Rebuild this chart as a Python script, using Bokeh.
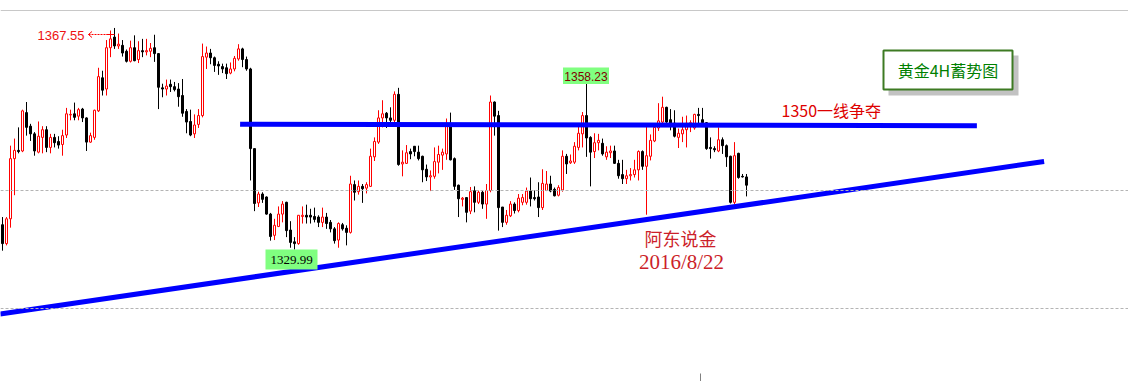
from bokeh.plotting import figure
from bokeh.models import Range1d, Span, ColumnDataSource
from bokeh.core.properties import value
from bokeh.embed import file_html
from bokeh.resources import INLINE

# ---- data: XAUUSD 4H candles ----
OPEN = [
    1334.2, 1331.0, 1335.2, 1345.4, 1346.8, 1346.7, 1353.2, 1350.9, 1349.6, 1346.5,
    1349.0, 1350.3, 1347.3, 1349.0, 1348.3, 1347.8, 1349.4, 1352.8, 1353.0, 1352.6,
    1353.8, 1352.3, 1348.2, 1349.0, 1353.5, 1359.1, 1357.2, 1364.2, 1366.0, 1364.5,
    1364.6, 1363.6, 1361.9, 1364.2, 1362.2, 1363.7, 1363.5, 1363.6, 1364.2, 1363.2,
    1357.4, 1357.2, 1358.0, 1357.6, 1357.2, 1356.1, 1353.4, 1351.7, 1349.6, 1351.2,
    1352.7, 1362.6, 1363.3, 1362.5, 1361.4, 1361.0, 1360.8, 1359.9, 1360.6, 1362.3,
    1364.0, 1362.2, 1360.6, 1347.1, 1337.9, 1339.4, 1338.9, 1336.0, 1332.4, 1333.9,
    1336.0, 1338.0, 1333.3, 1331.3, 1331.0, 1335.6, 1335.8, 1335.8, 1335.6, 1335.5,
    1334.6, 1335.5, 1334.6, 1333.5, 1331.6, 1334.2, 1333.6, 1332.9, 1341.0, 1339.8,
    1340.7, 1340.4, 1340.7, 1345.7, 1348.2, 1352.3, 1353.1, 1352.3, 1351.9, 1356.3,
    1344.5, 1344.6, 1346.6, 1347.5, 1346.5, 1345.8, 1343.6, 1342.3, 1342.4, 1344.8,
    1346.0, 1346.2, 1351.1, 1345.4, 1340.9, 1338.5, 1338.8, 1336.5, 1340.0, 1338.0,
    1339.7, 1337.7, 1340.0, 1355.0, 1352.7, 1337.2, 1334.6, 1335.7, 1337.7, 1336.6,
    1338.0, 1338.0, 1339.9, 1338.8, 1338.9, 1337.1, 1340.0, 1341.1, 1340.2, 1339.2,
    1340.1, 1345.8, 1344.7, 1344.8, 1347.3, 1349.6, 1352.7, 1349.0, 1346.6, 1348.1,
    1348.0, 1345.7, 1346.4, 1346.7, 1344.6, 1342.7, 1342.0, 1342.5, 1342.7, 1343.5,
    1346.6, 1344.1, 1345.8, 1348.4, 1350.6, 1351.6, 1354.1, 1352.0, 1351.4, 1349.0,
    1349.6, 1350.3, 1351.0, 1350.6, 1352.9, 1352.0, 1351.5, 1347.3, 1347.1, 1346.7,
    1348.6, 1347.6, 1345.8, 1338.0, 1346.3, 1342.4, 1342.3]
HIGH = [
    1335.5, 1335.5, 1347.6, 1348.8, 1350.7, 1353.7, 1355.0, 1351.3, 1349.9, 1351.7,
    1350.9, 1350.9, 1349.6, 1349.6, 1349.2, 1350.3, 1354.0, 1353.7, 1354.9, 1354.0,
    1354.0, 1352.4, 1349.8, 1353.7, 1360.8, 1360.3, 1365.5, 1366.6, 1367.55, 1366.6,
    1365.5, 1363.9, 1365.4, 1366.3, 1365.3, 1365.7, 1365.7, 1365.0, 1366.4, 1363.3,
    1358.1, 1358.8, 1358.8, 1358.4, 1358.2, 1358.9, 1353.8, 1353.7, 1352.9, 1353.8,
    1364.9, 1364.4, 1364.0, 1362.7, 1361.9, 1361.5, 1361.5, 1361.7, 1362.8, 1364.8,
    1364.2, 1362.7, 1360.8, 1347.1, 1339.8, 1339.7, 1339.0, 1336.2, 1335.2, 1337.3,
    1338.2, 1338.1, 1334.8, 1332.1, 1335.8, 1337.3, 1337.6, 1336.9, 1337.1, 1335.8,
    1337.1, 1336.2, 1335.0, 1333.8, 1334.6, 1334.5, 1334.1, 1342.5, 1341.7, 1341.7,
    1341.1, 1341.4, 1347.1, 1349.0, 1353.6, 1355.3, 1353.3, 1354.1, 1356.8, 1357.4,
    1346.8, 1347.7, 1347.1, 1347.5, 1347.6, 1345.9, 1344.4, 1343.4, 1347.3, 1347.6,
    1347.1, 1352.2, 1353.2, 1345.6, 1341.0, 1338.9, 1338.8, 1340.6, 1340.7, 1340.0,
    1340.0, 1341.1, 1356.1, 1355.1, 1353.5, 1337.2, 1336.7, 1338.2, 1338.0, 1339.4,
    1339.4, 1340.5, 1342.2, 1340.0, 1341.4, 1343.6, 1343.3, 1342.5, 1340.5, 1340.9,
    1346.8, 1346.2, 1346.1, 1348.2, 1350.9, 1353.3, 1358.23, 1349.2, 1349.7, 1349.6,
    1348.8, 1347.5, 1347.6, 1347.6, 1345.2, 1345.2, 1343.5, 1343.8, 1345.2, 1346.8,
    1346.8, 1351.3, 1349.5, 1351.2, 1354.8, 1355.9, 1354.2, 1353.8, 1353.6, 1350.5,
    1352.5, 1352.7, 1351.9, 1353.0, 1354.0, 1354.0, 1351.6, 1349.0, 1347.5, 1350.7,
    1349.0, 1347.8, 1345.9, 1348.2, 1346.4, 1342.8, 1342.8]
LOW = [
    1329.8, 1330.7, 1333.7, 1339.2, 1346.3, 1346.5, 1349.3, 1348.4, 1345.9, 1346.3,
    1346.3, 1346.5, 1346.3, 1347.3, 1347.1, 1345.9, 1348.9, 1351.9, 1351.9, 1351.9,
    1351.6, 1346.7, 1348.1, 1348.6, 1353.3, 1356.1, 1356.1, 1362.6, 1364.0, 1364.0,
    1362.7, 1361.7, 1361.7, 1361.9, 1361.6, 1362.6, 1362.9, 1362.6, 1361.8, 1353.8,
    1355.8, 1356.1, 1356.7, 1356.8, 1354.2, 1352.5, 1349.7, 1349.2, 1348.9, 1350.6,
    1352.4, 1360.6, 1361.4, 1360.1, 1359.6, 1359.9, 1358.9, 1359.7, 1360.2, 1362.0,
    1360.9, 1360.3, 1341.7, 1336.5, 1337.2, 1337.9, 1335.9, 1331.5, 1331.6, 1333.8,
    1334.6, 1332.1, 1330.3, 1329.99, 1330.8, 1334.4, 1334.4, 1334.4, 1334.6, 1333.8,
    1333.8, 1333.5, 1332.9, 1331.0, 1330.3, 1333.2, 1330.7, 1332.7, 1338.3, 1339.3,
    1337.9, 1339.5, 1340.6, 1345.0, 1347.9, 1350.7, 1350.6, 1351.6, 1351.6, 1344.2,
    1342.4, 1344.5, 1345.3, 1345.8, 1345.1, 1341.4, 1341.6, 1339.9, 1342.0, 1342.9,
    1343.5, 1345.2, 1345.1, 1340.1, 1335.5, 1337.3, 1334.6, 1336.0, 1336.3, 1337.7,
    1336.9, 1335.2, 1339.7, 1349.3, 1333.2, 1333.8, 1334.2, 1335.5, 1336.1, 1336.3,
    1337.5, 1337.6, 1337.3, 1338.3, 1335.5, 1336.7, 1339.9, 1339.7, 1339.0, 1339.0,
    1339.8, 1342.8, 1344.5, 1344.5, 1346.8, 1347.3, 1345.7, 1340.7, 1345.5, 1346.8,
    1345.9, 1345.2, 1345.5, 1344.5, 1342.0, 1341.1, 1341.1, 1341.7, 1342.2, 1341.7,
    1343.5, 1335.9, 1345.1, 1348.2, 1350.1, 1351.4, 1351.3, 1350.2, 1349.0, 1347.2,
    1348.2, 1347.3, 1349.9, 1350.3, 1351.4, 1351.4, 1346.9, 1345.4, 1346.5, 1346.5,
    1346.2, 1344.0, 1337.8, 1337.7, 1342.0, 1342.2, 1339.0]
CLOSE = [
    1331.0, 1335.2, 1345.4, 1346.8, 1346.6, 1353.5, 1350.7, 1349.6, 1346.7, 1349.2,
    1350.3, 1347.3, 1349.0, 1348.1, 1347.7, 1349.3, 1353.0, 1352.9, 1352.4, 1353.7,
    1352.3, 1348.2, 1349.3, 1353.6, 1359.3, 1357.0, 1364.2, 1365.7, 1364.5, 1364.8,
    1363.3, 1361.9, 1364.2, 1362.0, 1363.7, 1363.5, 1363.7, 1364.1, 1363.2, 1357.5,
    1357.2, 1357.7, 1357.6, 1357.1, 1355.9, 1353.1, 1351.6, 1349.4, 1351.1, 1352.7,
    1362.7, 1363.3, 1362.5, 1361.2, 1361.1, 1360.6, 1359.8, 1360.6, 1362.4, 1364.0,
    1362.2, 1360.6, 1347.1, 1337.8, 1339.4, 1338.5, 1336.0, 1332.2, 1334.1, 1336.0,
    1337.7, 1333.2, 1331.2, 1331.0, 1335.8, 1335.8, 1335.5, 1335.5, 1335.1, 1334.6,
    1335.5, 1334.4, 1333.5, 1331.5, 1334.4, 1333.5, 1332.9, 1341.1, 1339.7, 1340.7,
    1340.3, 1341.0, 1345.8, 1348.3, 1352.3, 1353.0, 1352.3, 1351.9, 1356.3, 1344.4,
    1344.8, 1346.4, 1346.2, 1346.6, 1345.4, 1343.5, 1342.3, 1342.5, 1344.9, 1346.1,
    1346.5, 1351.4, 1345.2, 1340.7, 1338.6, 1338.7, 1336.3, 1339.8, 1338.0, 1339.7,
    1337.7, 1340.0, 1355.0, 1352.6, 1337.1, 1334.6, 1335.8, 1337.7, 1336.6, 1338.7,
    1338.8, 1339.9, 1338.6, 1338.6, 1337.1, 1341.2, 1341.1, 1339.9, 1339.1, 1340.5,
    1345.8, 1344.5, 1345.0, 1347.5, 1349.7, 1352.7, 1348.9, 1346.5, 1348.1, 1348.5,
    1346.2, 1346.5, 1346.7, 1344.6, 1342.5, 1342.0, 1342.5, 1342.7, 1343.5, 1346.6,
    1344.1, 1345.9, 1348.5, 1350.7, 1351.8, 1354.1, 1351.6, 1351.4, 1349.2, 1349.7,
    1350.3, 1351.4, 1351.5, 1352.9, 1352.7, 1351.5, 1347.1, 1347.1, 1346.9, 1348.6,
    1347.6, 1345.7, 1338.0, 1345.9, 1342.2, 1342.3, 1340.9]

# trend lines (bar index, price)
RESIST_BARS = [59.4, 243.6]
RESIST_PRICES = [1351.22, 1350.97]
SUPPORT_BARS = [-0.6, 260.4]
SUPPORT_PRICES = [1319.07, 1344.92]
GRID_PRICES = [1340, 1320]

PEAK_HIGH = 1367.55
SWING_HIGH = 1358.23
SWING_LOW = 1329.99

TITLE = "黄金4H蓄势图"
RESIST_NOTE = "1350一线争夺"
AUTHOR = "阿东说金"
DATE = "2016/8/22"

# ---- layout ----
W, H = 1128, 381
X0_PX, PX_PER_BAR = 2.0, 4.0
Y_REF, Y_REF_PX, PX_PER_USD = 1340.0, 190.0, 5.9


def bx(px):
    return (px - X0_PX) / PX_PER_BAR


def by(py):
    return Y_REF + (Y_REF_PX - py) / PX_PER_USD


p = figure(width=W, height=H, x_range=Range1d(bx(0), bx(W)),
           y_range=Range1d(by(H), by(0)), output_backend="svg",
           toolbar_location=None, min_border=0, x_axis_location=None,
           y_axis_location=None, outline_line_color=None,
           background_fill_color="white", border_fill_color="white")
p.grid.grid_line_color = None

RED = "#ff0000"
n = len(OPEN)
up = [CLOSE[i] >= OPEN[i] for i in range(n)]
src = ColumnDataSource(dict(
    x=list(range(n)), high=HIGH, low=LOW,
    top=[max(OPEN[i], CLOSE[i]) for i in range(n)],
    bottom=[min(OPEN[i], CLOSE[i]) for i in range(n)],
    color=[RED if u else "#000000" for u in up],
    fill=["#ffffff" if u else "#000000" for u in up],
))

# grid + frame lines
for g in GRID_PRICES:
    p.add_layout(Span(location=g, dimension="width", line_color="#b4b4b4",
                      line_dash="3 2", line_width=1))
p.add_layout(Span(location=by(10), dimension="width",
                  line_color="#c8c8c8", line_width=1))
p.segment(x0=[bx(700)], x1=[bx(700)], y0=[by(373)], y1=[by(382)],
          line_color="#808080", line_width=1)

# candles
p.segment(x0="x", y0="low", x1="x", y1="high", line_color="color",
          line_width=1, source=src)
p.vbar(x="x", width=0.5, top="top", bottom="bottom", fill_color="fill",
       line_color="color", line_width=1, source=src)

# trend lines
p.line(RESIST_BARS, RESIST_PRICES, line_color="#0000ff", line_width=5)
p.line(SUPPORT_BARS, SUPPORT_PRICES, line_color="#0000ff", line_width=5)

# peak marker
ay = by(34)
p.line([bx(88), bx(108)], [ay, ay], line_color=RED, line_width=1,
       line_dash="2 1")
p.segment(x0=[bx(88), bx(88)], y0=[ay, ay], x1=[bx(91.5), bx(91.5)],
          y1=[by(31), by(37)], line_color=RED, line_width=1)
p.scatter(x=[bx(110)], y=[ay], marker="cross", size=8, line_color=RED,
          line_width=1)
p.text(x=[bx(84)], y=[by(35)], text=[f"{PEAK_HIGH:.2f}"],
       text_font=value("Liberation Sans"), text_font_size="13px",
       text_color="#ee1111", text_align="right", text_baseline="middle")

# swing high / low labels
p.quad(left=[bx(562.5)], right=[bx(608.5)], top=[by(67)], bottom=[by(83.5)],
       fill_color="#80ff80", line_color=None)
p.text(x=[bx(585.5)], y=[by(75.5)], text=[f"{SWING_HIGH:.2f}"],
       text_font=value("Liberation Sans"), text_font_size="12px",
       text_color="#800000", text_align="center", text_baseline="middle")
p.quad(left=[bx(265)], right=[bx(317)], top=[by(249)], bottom=[by(269)],
       fill_color="#80ff80", line_color=None)
p.text(x=[bx(291)], y=[by(259.5)], text=[f"{SWING_LOW:.2f}"],
       text_font=value("Liberation Sans Narrow"), text_font_size="13px",
       text_color="#000000", text_align="center", text_baseline="middle")

# resistance note
p.text(x=[bx(781)], y=[by(109)], text=[RESIST_NOTE],
       text_font=value("Noto Sans CJK SC"), text_font_size="16px",
       text_color="#dd0000", text_align="left", text_baseline="middle")

# title box
p.quad(left=[bx(888)], right=[bx(1018)], top=[by(55)], bottom=[by(95)],
       fill_color="#9a9a9a", fill_alpha=0.6, line_color=None)
p.quad(left=[bx(883)], right=[bx(1012)], top=[by(50)], bottom=[by(89)],
       fill_color="#ffffff", line_color="#3d7a23", line_width=2)
p.text(x=[bx(947.5)], y=[by(69.5)], text=[TITLE],
       text_font=value("Noto Sans CJK SC"), text_font_size="16px",
       text_color="#008000", text_align="center", text_baseline="middle")

# signature
p.text(x=[bx(680)], y=[by(237)], text=[AUTHOR],
       text_font=value("Noto Sans CJK SC"), text_font_size="18px",
       text_color="#cc1f2a", text_align="center", text_baseline="middle")
p.text(x=[bx(681)], y=[by(261.5)], text=[DATE],
       text_font=value("Liberation Serif"), text_font_size="21px",
       text_color="#cc1f2a", text_align="center", text_baseline="middle")

open("out.html", "w").write(file_html(p, INLINE))
